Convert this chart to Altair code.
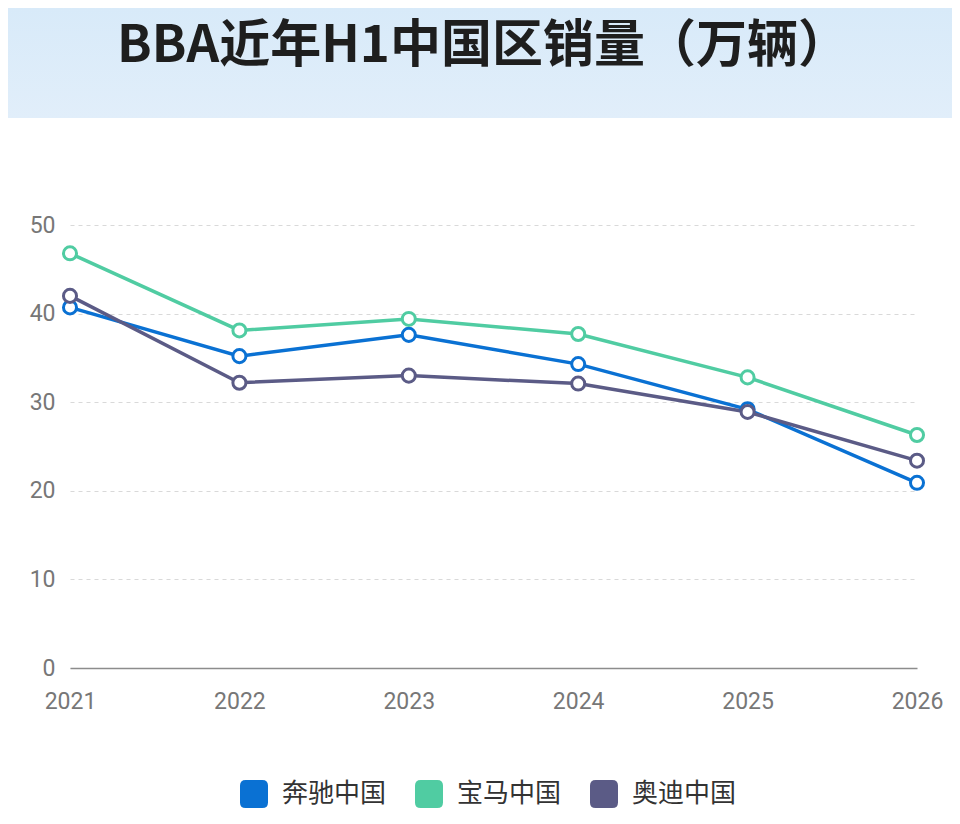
import altair as alt
import pandas as pd

years = ["2021", "2022", "2023", "2024", "2025", "2026"]
brands = ["奔驰中国", "宝马中国", "奥迪中国"]
benz = [40.7, 35.2, 37.6, 34.3, 29.2, 20.9]
bmw = [46.8, 38.1, 39.4, 37.7, 32.8, 26.3]
audi = [42.0, 32.2, 33.0, 32.1, 28.9, 23.4]
colors = ["#0a71d3", "#50cca2", "#5b5b86"]
title_text = "BBA近年H1中国区销量（万辆）"

rows = []
for b, vals in zip(brands, [benz, bmw, audi]):
    for y, v in zip(years, vals):
        rows.append({"year": y, "brand": b, "value": v})
df = pd.DataFrame(rows)

W, H = 847, 443
one = pd.DataFrame({"k": [0]})

band = alt.Chart(one).mark_rect(
    color=alt.Gradient(
        gradient="linear", x1=0, y1=0, x2=0, y2=1,
        stops=[alt.GradientStop(offset=0, color="#d8eaf9"),
               alt.GradientStop(offset=1, color="#e1eefa")],
    )
).encode(
    x=alt.value(-62), x2=alt.value(W + 35), y=alt.value(-217), y2=alt.value(-107)
)
title = alt.Chart(pd.DataFrame({"t": [title_text]})).mark_text(
    font="Noto Sans CJK SC", fontSize=51, fontWeight="bold", color="#1e1e1e",
    baseline="middle", align="center"
).encode(x=alt.value(413), y=alt.value(-178), text="t:N")

rounded = "M-1,-0.6 Q-1,-1 -0.6,-1 L0.6,-1 Q1,-1 1,-0.6 L1,0.6 Q1,1 0.6,1 L-0.6,1 Q-1,1 -1,0.6 Z"

scale = alt.Scale(domain=brands, range=colors)
color_enc = alt.Color("brand:N", scale=scale, legend=None)
fill_enc = alt.Fill(
    "brand:N", scale=scale,
    legend=alt.Legend(
        title=None, orient="none", direction="horizontal", legendX=170, legendY=555,
        symbolType=rounded, symbolSize=784, symbolStrokeWidth=0, symbolOpacity=1,
        labelFontSize=26, labelFont="Noto Sans CJK SC", labelColor="#333333",
        labelOffset=14, columnPadding=28,
    ),
)

x_enc = alt.X(
    "year:O", scale=alt.Scale(type="point", padding=0), title=None,
    axis=alt.Axis(labelAngle=0, labelFontSize=23, labelFont="Roboto", labelColor="#777777",
                  ticks=False, domainColor="#8c8c8c", domainWidth=1.5, labelPadding=22,
                  grid=False),
)
y_enc = alt.Y(
    "value:Q", scale=alt.Scale(domain=[0, 50]), title=None,
    axis=alt.Axis(values=[0, 10, 20, 30, 40, 50], labelFontSize=23, labelFont="Roboto",
                  labelColor="#777777", ticks=False, domain=False, labelPadding=15,
                  gridColor="#d9d9d9", gridDash=[4, 4], gridWidth=1),
)

legend_layer = alt.Chart(df).mark_point(filled=True, size=0, opacity=1).encode(
    x=x_enc, y=y_enc, fill=fill_enc
)
lines = alt.Chart(df).mark_line(strokeWidth=3.5).encode(
    x=x_enc, y=y_enc, color=color_enc
)
points = alt.Chart(df).mark_point(
    filled=False, fill="white", fillOpacity=1, size=170, strokeWidth=3, opacity=1
).encode(x=x_enc, y=y_enc, color=color_enc)

chart = alt.layer(band, title, legend_layer, lines, points).properties(
    width=W, height=H, padding=0, background="white"
).configure_view(stroke=None)

chart.save("out.html", embed_options={"renderer": "svg", "actions": False})
